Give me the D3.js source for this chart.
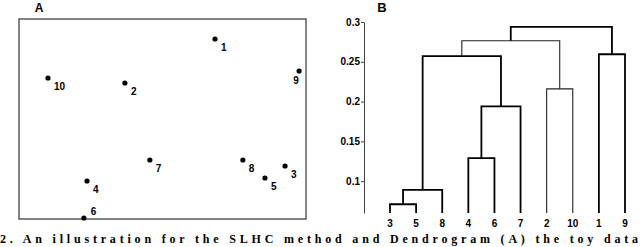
<!DOCTYPE html>
<html>
<head>
<meta charset="utf-8">
<script src="https://cdn.jsdelivr.net/npm/d3@7"></script>
<style>
  body { margin: 0; background: #fff; }
  svg { display: block; }
  .lab { font-family: "Liberation Sans", Arial, sans-serif; font-weight: bold; }
</style>
</head>
<body>
<div id="chart"></div>
<script>
// Panel A: toy points (arbitrary units, 0..1)
const pointIds = ["1", "2", "3", "4", "5", "6", "7", "8", "9", "10"];
const pointX = [0.683, 0.369, 0.927, 0.237, 0.857, 0.226, 0.456, 0.780, 0.976, 0.101];
const pointY = [0.900, 0.680, 0.265, 0.190, 0.205, 0.005, 0.295, 0.295, 0.740, 0.705];

// Panel B: dendrogram (leaf order + linkage merges)
const leafOrder = ["3", "5", "8", "4", "6", "7", "2", "10", "1", "9"];
const mergeLeft = ["3", "c1", "4", "c3", "c2", "2", "c5", "1", "c7"];
const mergeRight = ["5", "8", "6", "7", "c4", "10", "c6", "9", "c8"];
const mergeHeight = [0.071, 0.089, 0.129, 0.194, 0.257, 0.216, 0.2765, 0.2595, 0.294];
const yTicks = [0.1, 0.15, 0.2, 0.25, 0.3];

const svg = d3.select("#chart").append("svg")
    .attr("width", 640)
    .attr("height", 247);

// ---------- Panel A ----------
const xA = d3.scaleLinear().domain([0, 1]).range([19, 306]);
const yA = d3.scaleLinear().domain([0, 1]).range([219, 19]);

svg.append("rect")
    .attr("x", 19).attr("y", 19)
    .attr("width", 287).attr("height", 200)
    .attr("fill", "none")
    .attr("stroke", "#333")
    .attr("stroke-width", 1.2);

svg.append("text")
    .attr("class", "lab")
    .attr("x", 39).attr("y", 12)
    .attr("text-anchor", "middle")
    .style("font-size", "12px")
    .text("A");

const pts = pointIds.map((id, i) => ({ id: id, x: pointX[i], y: pointY[i] }));

svg.selectAll(".pt")
    .data(pts)
    .enter().append("circle")
    .attr("class", "pt")
    .attr("cx", d => xA(d.x))
    .attr("cy", d => yA(d.y))
    .attr("r", 2.6)
    .attr("fill", "#000");

// most labels sit below-right of their point
const labelShift = { "9": [-3, 13], "6": [7, -3] };
svg.selectAll(".ptlab")
    .data(pts)
    .enter().append("text")
    .attr("class", "lab")
    .attr("x", d => xA(d.x) + (labelShift[d.id] ? labelShift[d.id][0] : 6))
    .attr("y", d => yA(d.y) + (labelShift[d.id] ? labelShift[d.id][1] : 12))
    .attr("text-anchor", d => d.id === "9" ? "middle" : "start")
    .style("font-size", "10px")
    .text(d => d.id);

// ---------- Panel B ----------
const xB = d3.scalePoint().domain(leafOrder).range([390, 625]);
const yB = d3.scaleLinear().domain([0.06, 0.3]).range([213, 22]);

svg.append("text")
    .attr("class", "lab")
    .attr("x", 382).attr("y", 12)
    .attr("text-anchor", "middle")
    .style("font-size", "13px")
    .text("B");

const yAxis = svg.append("g")
    .attr("transform", "translate(364,0)")
    .call(d3.axisLeft(yB).tickValues(yTicks).tickSize(3).tickSizeOuter(0).tickPadding(1)
        .tickFormat(d3.format("")));
yAxis.select(".domain").attr("stroke", "#444");
yAxis.selectAll(".tick line").attr("stroke", "#444");
yAxis.selectAll("text")
    .attr("class", "lab")
    .style("font-size", "10px")
    .attr("fill", "#000");

// node positions
const nodeX = {}, nodeH = {};
leafOrder.forEach(l => { nodeX[l] = xB(l); nodeH[l] = 0.06; });
const thinMerges = ["c6", "c7"];
const links = [];
mergeLeft.forEach((a, i) => {
    const b = mergeRight[i];
    const id = "c" + (i + 1);
    const h = mergeHeight[i];
    nodeX[id] = (nodeX[a] + nodeX[b]) / 2;
    nodeH[id] = h;
    links.push({ id: id, a: a, b: b, h: h });
});

svg.selectAll(".link")
    .data(links)
    .enter().append("path")
    .attr("class", "link")
    .attr("fill", "none")
    .attr("stroke", d => thinMerges.includes(d.id) ? "#222" : "#000")
    .attr("stroke-width", d => thinMerges.includes(d.id) ? 1.1 : 1.8)
    .attr("d", d => {
        const p = d3.path();
        p.moveTo(nodeX[d.a], yB(nodeH[d.a]));
        p.lineTo(nodeX[d.a], yB(d.h));
        p.lineTo(nodeX[d.b], yB(d.h));
        p.lineTo(nodeX[d.b], yB(nodeH[d.b]));
        return p.toString();
    });

svg.selectAll(".leaflab")
    .data(leafOrder)
    .enter().append("text")
    .attr("class", "lab")
    .attr("x", d => xB(d))
    .attr("y", 227)
    .attr("text-anchor", "middle")
    .style("font-size", "10px")
    .text(d => d);

// ---------- caption line under both panels ----------
svg.append("text")
    .attr("x", 0).attr("y", 243)
    .attr("textLength", 638)
    .attr("lengthAdjust", "spacing")
    .style("font-family", "'Liberation Serif', 'Times New Roman', serif")
    .style("font-weight", "bold")
    .style("font-size", "12px")
    .text("2. An illustration for the SLHC method and Dendrogram (A) the toy data");
</script>
</body>
</html>
